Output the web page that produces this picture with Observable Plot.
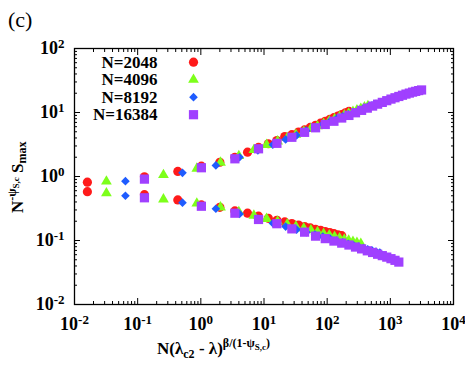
<!DOCTYPE html>
<html><head><meta charset="utf-8">
<script src="https://cdn.jsdelivr.net/npm/d3@7"></script>
<script src="https://cdn.jsdelivr.net/npm/@observablehq/plot@0.6"></script>
<style>
body{margin:0;background:#fff;}
</style>
</head><body><div id="chart"></div>
<script>
// ---- series meta ----
const seriesNames = ["N=2048", "N=4096", "N=8192", "N=16384"];
const seriesColors = ["#ff1a1a", "#7dff1a", "#1f5cff", "#a040ff"];
const seriesSymbols = ["circle", "triangle", "diamond2", "square"];
const seriesRadius = [4.6, 4.0, 3.9, 5.2];

// ---- N=2048 ----
const x2048 = [0.016, 0.128, 0.432, 1.02, 2.0, 3.46, 5.49, 8.19, 11.7, 16.0, 21.3, 27.6, 35.2, 43.9, 54.0, 65.5, 78.6, 93.3, 110, 128, 148, 170, 195, 221];
const up2048 = [0.815, 0.99, 1.2, 1.45, 1.67, 2.0, 2.4, 2.85, 3.25, 3.65, 4.2, 4.5, 4.95, 5.35, 5.85, 6.3, 6.8, 7.3, 7.8, 8.3, 8.8, 9.3, 9.9, 10.4];
const lo2048 = [0.58, 0.52, 0.43, 0.36, 0.33, 0.29, 0.267, 0.24, 0.222, 0.207, 0.195, 0.184, 0.174, 0.165, 0.157, 0.15, 0.144, 0.138, 0.133, 0.128, 0.123, 0.119];

// ---- N=4096 ----
const x4096 = [0.032, 0.256, 0.864, 2.05, 4.0, 6.91, 11.0, 16.4, 23.3, 32.0, 42.6, 55.3, 70.3, 87.8, 108, 131, 157, 187, 219, 256, 296, 341, 389, 442];
const up4096 = [0.835, 1.06, 1.33, 1.65, 2.1, 2.6, 3.13, 3.55, 4.0, 4.5, 5.0, 5.6, 6.1, 6.7, 7.3, 7.9, 8.5, 9.1, 9.7, 10.3, 10.9, 11.5, 12.1, 12.7];
const lo4096 = [0.55, 0.44, 0.38, 0.33, 0.28, 0.245, 0.218, 0.198, 0.18, 0.166, 0.155, 0.145, 0.136, 0.128, 0.121, 0.115, 0.109, 0.104, 0.1, 0.096, 0.092, 0.089];

// ---- N=8192 ----
const x8192 = [0.064, 0.512, 1.73, 4.10, 8.0, 13.8, 22.0, 32.8, 46.7, 64.0, 85.2, 111, 141, 176, 216, 262, 314, 373, 439, 512, 593, 681, 779, 885];
const up8192 = [0.845, 1.14, 1.49, 2.0, 2.55, 3.13, 3.8, 4.4, 5.2, 5.9, 6.6, 7.3, 8.0, 8.7, 9.4, 10.1, 10.8, 11.5, 12.2, 12.9, 13.6, 14.3, 15.0, 15.6];
const lo8192 = [0.50, 0.39, 0.313, 0.26, 0.22, 0.186, 0.165, 0.148, 0.135, 0.124, 0.115, 0.107, 0.1, 0.094, 0.089, 0.084, 0.08, 0.076, 0.073, 0.07, 0.067, 0.065];

// ---- N=16384 ----
const x16384 = [0.128, 1.02, 3.46, 8.19, 16.0, 27.6, 43.9, 65.5, 93.3, 128, 170, 221, 281, 351, 432, 524, 629, 746, 878, 1024, 1185, 1363, 1557, 1769, 2000, 2250, 2519, 2810, 3122];
const up16384 = [0.91, 1.37, 1.89, 2.71, 3.3, 4.1, 4.9, 5.77, 6.5, 7.3, 8.2, 9.0, 9.9, 10.8, 11.7, 12.6, 13.5, 14.4, 15.3, 16.2, 17.0, 17.8, 18.6, 19.4, 20.1, 20.8, 21.4, 22.0, 22.5];
const lo16384 = [0.465, 0.343, 0.267, 0.213, 0.183, 0.152, 0.135, 0.117, 0.107, 0.098, 0.091, 0.085, 0.079, 0.074, 0.069, 0.065, 0.061, 0.058, 0.055, 0.052, 0.049, 0.046];

// ---- ticks ----
const xTicks = [1e-2, 1e-1, 1e0, 1e1, 1e2, 1e3, 1e4];
const yTicks = [1e-2, 1e-1, 1e0, 1e1, 1e2];
const minorMultipliers = [2, 3, 4, 5, 6, 7, 8, 9];

const seriesX = [x2048, x4096, x8192, x16384];
const seriesUp = [up2048, up4096, up8192, up16384];
const seriesLo = [lo2048, lo4096, lo8192, lo16384];

const rows = [];
seriesNames.forEach((name, si) => {
  seriesUp[si].forEach((v, i) => rows.push({series: si, x: seriesX[si][i], y: v}));
  seriesLo[si].forEach((v, i) => rows.push({series: si, x: seriesX[si][i], y: v}));
});

function minors(majors) {
  const out = [];
  for (let i = 0; i < majors.length - 1; i++) for (const m of minorMultipliers) out.push(majors[i] * m);
  return out;
}
const xMinor = minors(xTicks), yMinor = minors(yTicks);
const fmt = d => "10^" + Math.round(Math.log10(d));
const blank = () => "";

const W = 465, H = 365;
const mL = 74, mR = 12, mT = 48, mB = 61;

const marks = [];
// inward ticks on all four sides
for (const anchor of ["bottom", "top"]) {
  marks.push(Plot.axisX({anchor, ticks: xTicks, tickSize: -6, tickFormat: blank, strokeWidth: 1}));
  marks.push(Plot.axisX({anchor, ticks: xMinor, tickSize: -3, tickFormat: blank, strokeWidth: 1}));
}
for (const anchor of ["left", "right"]) {
  marks.push(Plot.axisY({anchor, ticks: yTicks, tickSize: -6, tickFormat: blank, strokeWidth: 1}));
  marks.push(Plot.axisY({anchor, ticks: yMinor, tickSize: -3, tickFormat: blank, strokeWidth: 1}));
}
// labels
marks.push(Plot.axisX({anchor: "bottom", ticks: xTicks, tickSize: 0, tickPadding: 13, tickFormat: fmt, label: null}));
marks.push(Plot.axisY({anchor: "left", ticks: yTicks, tickSize: 0, tickPadding: 10, tickFormat: fmt, label: null}));

// data
seriesNames.forEach((name, si) => {
  marks.push(Plot.dot(rows.filter(d => d.series === si), {
    x: "x", y: "y", symbol: seriesSymbols[si], fill: seriesColors[si], r: seriesRadius[si], stroke: "none"
  }));
});

// legend (inside frame, top-left)
const legendRowGap = 17.5;
seriesNames.forEach((name, si) => {
  marks.push(Plot.text([name], {text: d => d, frameAnchor: "top-left", dx: 83, dy: 13.7 + si * legendRowGap,
    textAnchor: "end", lineAnchor: "middle", fontSize: 17, fontWeight: "bold"}));
  marks.push(Plot.dot([name], {frameAnchor: "top-left", dx: 119, dy: 13.7 + si * legendRowGap,
    symbol: seriesSymbols[si], fill: seriesColors[si], r: seriesRadius[si], stroke: "none"}));
});

marks.push(Plot.frame({stroke: "black", strokeWidth: 1.3}));

const svg = Plot.plot({
  width: W, height: H,
  marginLeft: mL, marginRight: mR, marginTop: mT, marginBottom: mB,
  style: {fontFamily: "'Liberation Serif', 'Times New Roman', serif", fontSize: "17px", background: "white", color: "black"},
  x: {type: "log", domain: [1e-2, 1e4], label: null},
  y: {type: "log", domain: [1e-2, 1e2], label: null},
  marks
});

// rebuild tick labels with superscripts
svg.querySelectorAll('g[aria-label="x-axis tick label"] text, g[aria-label="y-axis tick label"] text').forEach(t => {
  const s = t.textContent;
  const m = s.match(/^10\^(-?\d+)$/);
  if (!m) return;
  while (t.firstChild) t.removeChild(t.firstChild);
  t.setAttribute("font-size", "18");
  t.setAttribute("font-weight", "bold");
  const ns = "http://www.w3.org/2000/svg";
  const a = document.createElementNS(ns, "tspan"); a.textContent = "10";
  const b = document.createElementNS(ns, "tspan"); b.textContent = m[1];
  b.setAttribute("dy", "-0.45em"); b.setAttribute("font-size", "13");
  t.appendChild(a); t.appendChild(b);
});

const g = d3.select(svg).append("g")
  .attr("font-family", "'Liberation Serif', 'Times New Roman', serif")
  .attr("fill", "black").attr("text-anchor", "start");
// panel label
g.append("text").attr("x", 8).attr("y", 27).attr("font-size", 22).text("(c)");
// x title
const xt = g.append("text").attr("x", 157).attr("y", 354).attr("font-size", 17).attr("font-weight", "bold");
xt.append("tspan").text("N(λ");
xt.append("tspan").attr("dy", 4).attr("font-size", 12).text("c2");
xt.append("tspan").attr("dy", -4).text(" - λ)");
xt.append("tspan").attr("dy", -7).attr("font-size", 12).text("β/(1-ψ");
xt.append("tspan").attr("dy", 3).attr("font-size", 9).text("S,c");
xt.append("tspan").attr("dy", -3).attr("font-size", 12).text(")");
// y title
const yt = g.append("text").attr("transform", "translate(23,213) rotate(-90)").attr("font-size", 17).attr("font-weight", "bold");
yt.append("tspan").text("N");
yt.append("tspan").attr("dy", -7).attr("font-size", 12).text("-ψ");
yt.append("tspan").attr("dy", 3).attr("font-size", 9).text("S,c");
yt.append("tspan").attr("dy", 4).text(" S");
yt.append("tspan").attr("dy", 3).attr("font-size", 12).text("max");

document.getElementById("chart").appendChild(svg);
</script>
</body></html>
